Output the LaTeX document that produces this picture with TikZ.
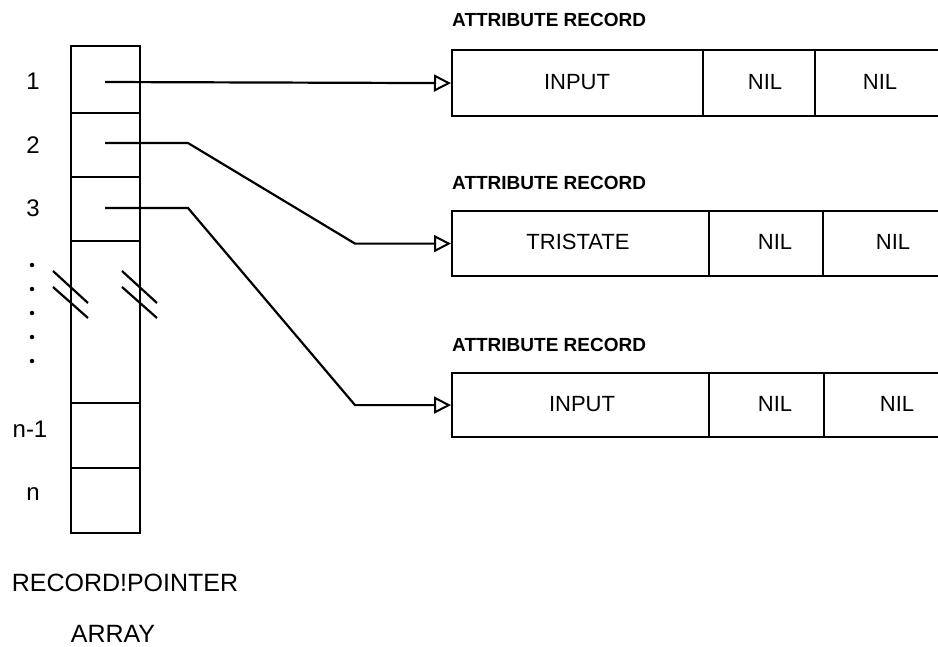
\documentclass[tikz,border=0pt]{standalone}
\usepackage{fontspec}
\setmainfont{Liberation Sans}
\usetikzlibrary{arrows.meta}
\begin{document}
\begin{tikzpicture}[x=1pt,y=-1pt,
  ln/.style={line width=2.2pt},
  cell/.style={draw, line width=2.2pt, minimum width=69pt, anchor=north west, inner sep=0pt},
  fld/.style={draw, line width=2.2pt, anchor=north west, inner sep=0pt},
  ttl/.style={anchor=west, font=\bfseries\fontsize{19}{22}\selectfont, inner sep=0pt},
  lbl/.style={font=\fontsize{22}{25}\selectfont, inner sep=0pt},
  idx/.style={font=\fontsize{24}{27}\selectfont, inner sep=0pt},
  captext/.style={font=\fontsize{25}{28}\selectfont, inner sep=0pt},
  ptr/.style={line width=2.2pt, -{Triangle[open, length=17pt, width=17pt, line width=2pt]}},
  dotm/.style={fill=black, circle, inner sep=0pt, minimum size=4.5pt},
]
\useasboundingbox (0,0) rectangle (938,646);
\begin{scope}
\clip (0,0) rectangle (938,646);

% record pointer array
\node[cell, minimum height=67pt] (c1) at (70,45) {};
\node[cell, minimum height=64pt] (c2) at (70,112) {};
\node[cell, minimum height=64pt] (c3) at (70,176) {};
\node[cell, minimum height=162pt] (cm) at (70,240) {};
\node[cell, minimum height=65pt] (cn1) at (70,402) {};
\node[cell, minimum height=65pt] (cn) at (70,467) {};

% break marks
\draw[ln] (53,271) -- (88,303);
\draw[ln] (53,287) -- (88,318);
\draw[ln] (122,271) -- (157,303);
\draw[ln] (122,287) -- (157,318);

% index labels
\node[idx] (l1) at (33,81) {1};
\node[idx] (l2) at (33,145) {2};
\node[idx] (l3) at (33,208) {3};
\node[idx] (ln1) at (30,429) {n-1};
\node[idx] (lnn) at (33,494) {n};
\foreach \yy [count=\i] in {265,289,313,337,361}
  \node[dotm] (d\i) at (32,\yy) {};

% records
\node[ttl] (t1) at (452,20) {ATTRIBUTE RECORD};
\node[fld, minimum width=251pt, minimum height=66pt] (r1a) at (451,49) {};
\node[fld, minimum width=112pt, minimum height=66pt] (r1b) at (702,49) {};
\node[fld, minimum width=150pt, minimum height=66pt] (r1c) at (814,49) {};
\node[lbl] at (577,82) {INPUT};
\node[lbl] at (765,82) {NIL};
\node[lbl] at (880,82) {NIL};

\node[ttl] (t2) at (452,183) {ATTRIBUTE RECORD};
\node[fld, minimum width=257pt, minimum height=65pt] (r2a) at (451,210) {};
\node[fld, minimum width=114pt, minimum height=65pt] (r2b) at (708,210) {};
\node[fld, minimum width=150pt, minimum height=65pt] (r2c) at (822,210) {};
\node[lbl] at (578,242) {TRISTATE};
\node[lbl] at (775,242) {NIL};
\node[lbl] at (893,242) {NIL};

\node[ttl] (t3) at (452,345) {ATTRIBUTE RECORD};
\node[fld, minimum width=257pt, minimum height=64pt] (r3a) at (451,372) {};
\node[fld, minimum width=115pt, minimum height=64pt] (r3b) at (708,372) {};
\node[fld, minimum width=150pt, minimum height=64pt] (r3c) at (823,372) {};
\node[lbl] at (582,404) {INPUT};
\node[lbl] at (775,404) {NIL};
\node[lbl] at (897,404) {NIL};

% pointers
\coordinate (s1) at (105,82);
\coordinate (s2) at (105,143);
\coordinate (s3) at (105,208);
\draw[ptr] (s1) -- (r1a.west);
\draw[ptr] (s2) -- (188,143) -- (355,0 |- r2a.west) -- (r2a.west);
\draw[ptr] (s3) -- (188,208) -- (355,0 |- r3a.west) -- (r3a.west);

% caption
\node[captext] (cap1) at (125,583) {RECORD!POINTER};
\node[captext] (cap2) at (113,634) {ARRAY};
\end{scope}
\end{tikzpicture}
\end{document}
